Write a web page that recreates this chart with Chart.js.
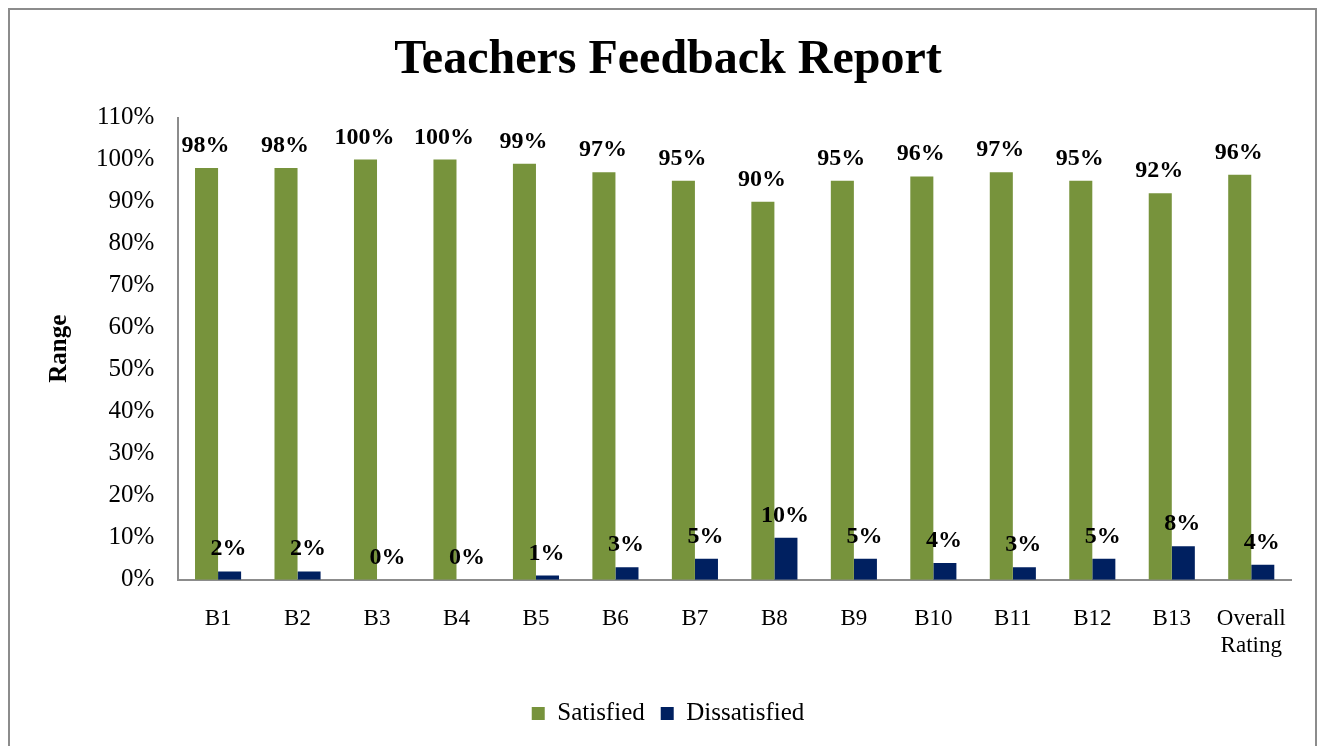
<!DOCTYPE html>
<html>
<head>
<meta charset="utf-8">
<script src="https://cdn.jsdelivr.net/npm/chart.js@4"></script>
<style>
  html, body { margin: 0; padding: 0; background: #fff; overflow: hidden; }
  #wrap { position: relative; width: 1327px; height: 746px; }
</style>
</head>
<body>
<div id="wrap"><canvas id="chart" width="1327" height="746"></canvas></div>
<script>
const categories = ['B1', 'B2', 'B3', 'B4', 'B5', 'B6', 'B7', 'B8', 'B9', 'B10', 'B11', 'B12', 'B13', ['Overall', 'Rating']];
const satisfied = [98, 98, 100, 100, 99, 97, 95, 90, 95, 96, 97, 95, 92, 96.4];
const dissatisfied = [2, 2, 0, 0, 1, 3, 5, 10, 5, 4, 3, 5, 8, 3.6];

const serif = "'Liberation Serif', 'Times New Roman', serif";

// value labels above each bar, and the outer frame
const barLabels = {
  id: 'barLabels',
  beforeDraw(chart) {
    const c = chart.ctx;
    c.save();
    c.strokeStyle = '#8c8c8c';
    c.lineWidth = 2;
    c.strokeRect(9, 9, 1307, 760);
    c.restore();
  },
  afterDatasetsDraw(chart) {
    const c = chart.ctx;
    c.save();
    c.font = 'bold 24px ' + serif;
    c.fillStyle = '#000';
    c.textAlign = 'center';
    c.textBaseline = 'alphabetic';
    chart.data.datasets.forEach((ds, i) => {
      chart.getDatasetMeta(i).data.forEach((bar, j) => {
        c.fillText(Math.round(ds.data[j]) + '%', bar.x - 1, bar.y - 16);
      });
    });
    c.restore();
  }
};

new Chart(document.getElementById('chart').getContext('2d'), {
  type: 'bar',
  data: {
    labels: categories,
    datasets: [{
      label: 'Satisfied',
      data: satisfied,
      backgroundColor: '#77933C',
      barPercentage: 1,
      categoryPercentage: 0.58
    }, {
      label: 'Dissatisfied',
      data: dissatisfied,
      backgroundColor: '#002060',
      barPercentage: 1,
      categoryPercentage: 0.58
    }]
  },
  options: {
    responsive: false,
    animation: false,
    layout: { padding: { left: 45, right: 36, top: 32, bottom: 10 } },
    plugins: {
      title: {
        display: true,
        text: 'Teachers Feedback Report',
        color: '#000',
        font: { family: serif, size: 48, weight: 'bold' },
        padding: { top: 0, bottom: 28 }
      },
      legend: {
        position: 'bottom',
        labels: {
          color: '#000',
          font: { family: serif, size: 25 },
          boxWidth: 13,
          boxHeight: 13,
          padding: 16
        }
      },
      tooltip: { enabled: false }
    },
    scales: {
      x: {
        grid: { display: false, drawTicks: false },
        border: { color: '#8c8c8c', width: 2 },
        ticks: {
          color: '#000',
          font: { family: serif, size: 23 },
          maxRotation: 0,
          padding: 25
        }
      },
      y: {
        min: 0,
        max: 110,
        grid: { display: false, drawTicks: false },
        border: { color: '#8c8c8c', width: 2 },
        ticks: {
          stepSize: 10,
          color: '#000',
          font: { family: serif, size: 25 },
          padding: 24,
          callback: v => v + '%'
        },
        title: {
          display: true,
          text: 'Range',
          color: '#000',
          font: { family: serif, size: 25, weight: 'bold' },
          padding: { top: 0, bottom: -3 }
        }
      }
    }
  },
  plugins: [barLabels]
});
</script>
</body>
</html>
